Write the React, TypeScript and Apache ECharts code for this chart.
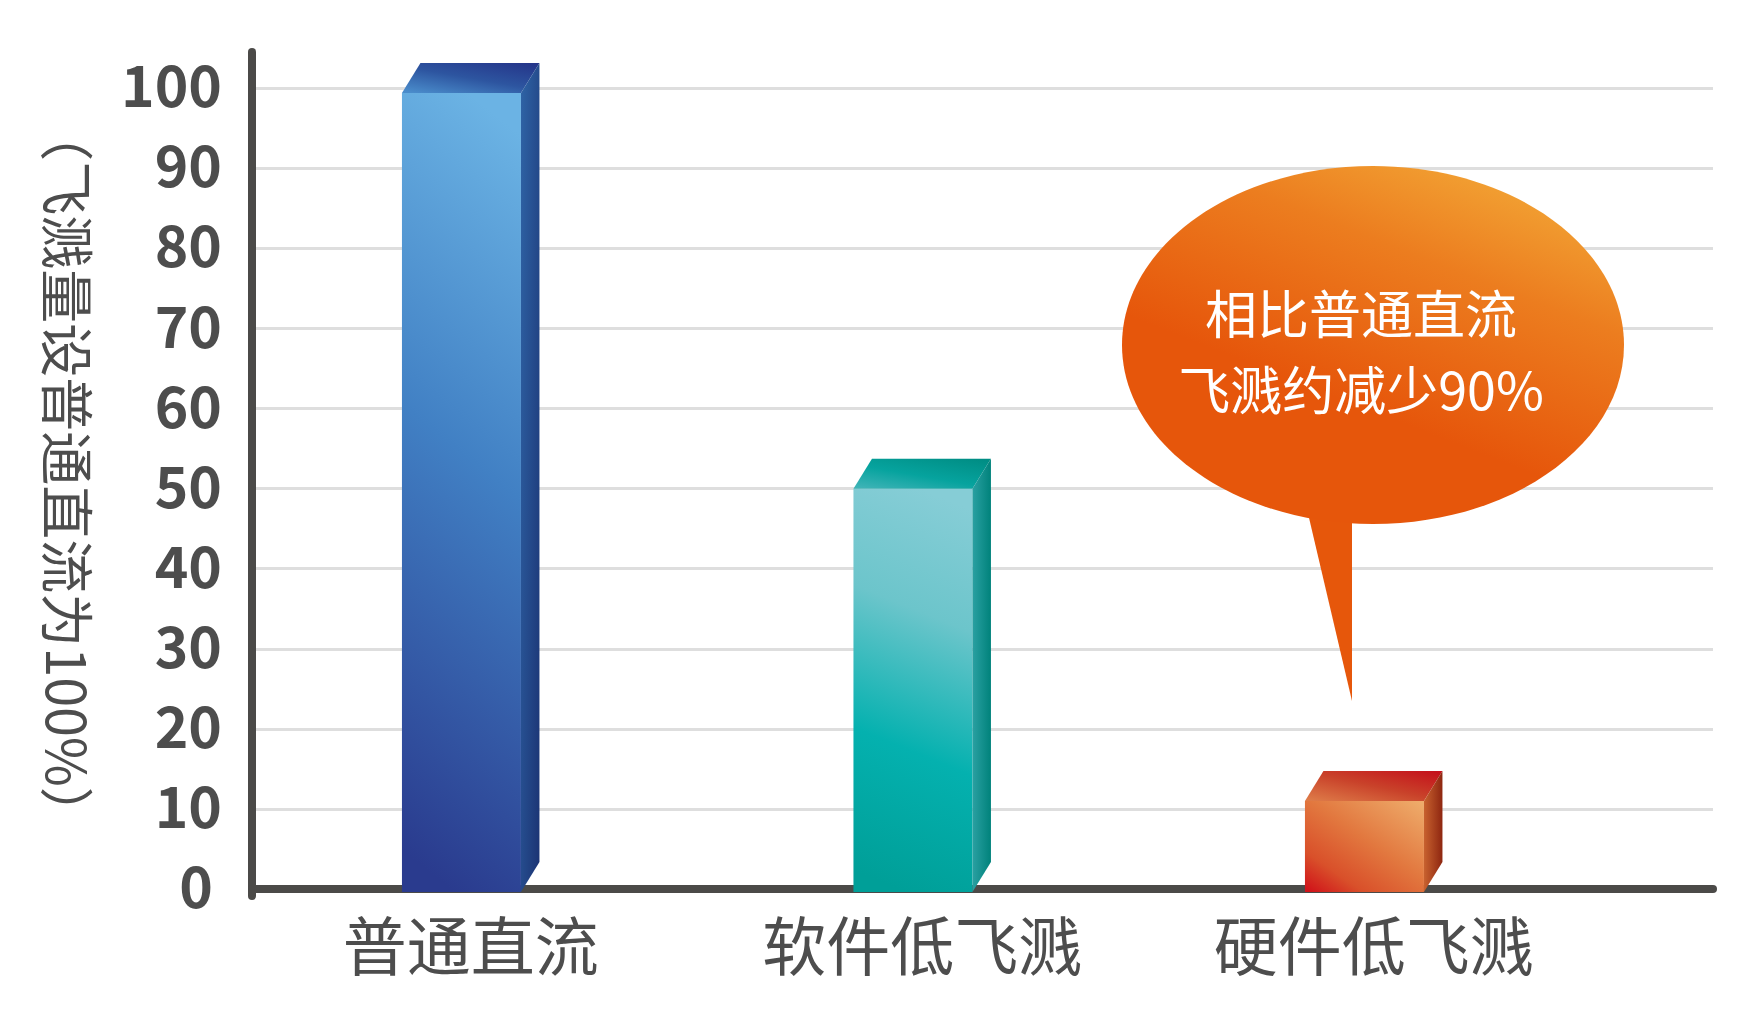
import React, { useEffect, useRef } from "react";
import * as echarts from "echarts";

const categories = ["普通直流", "软件低飞溅", "硬件低飞溅"];
const values = [99.4, 50, 11];
const yTicks = [0, 10, 20, 30, 40, 50, 60, 70, 80, 90, 100];
const yAxisName = "（飞溅量设普通直流为100%）";
const calloutLines = ["相比普通直流", "飞溅约减少90%"];

const FONT = '"Noto Sans CJK SC", "Noto Sans", sans-serif';
const AXIS_COLOR = "#4b4a48";
const TEXT_COLOR = "#4d4d4d";

const FRONT_W = 119;
const DX = 18.5;
const DY = 30;

const lin = (x: number, y: number, x2: number, y2: number, stops: [number, string][]) => ({
  type: "linear",
  x,
  y,
  x2,
  y2,
  colorStops: stops.map(([offset, color]) => ({ offset, color })),
  global: false,
});

const palettes = [
  {
    front: lin(0.56, 0, 0.44, 1, [
      [0, "#6bb3e4"],
      [0.45, "#4180c4"],
      [1, "#2a3b8e"],
    ]),
    top: lin(0.1, 1, 0.9, 0, [
      [0, "#4a8ccb"],
      [0.5, "#2d55a0"],
      [1, "#25368a"],
    ]),
    side: lin(0, 0, 1, 1, [
      [0, "#2f64a6"],
      [1, "#1b3373"],
    ]),
  },
  {
    front: lin(0.56, 0, 0.44, 1, [
      [0, "#86cdd6"],
      [0.3, "#6cc5cb"],
      [0.65, "#04b1af"],
      [1, "#009f98"],
    ]),
    top: lin(0.1, 1, 0.9, 0, [
      [0, "#3db3b6"],
      [0.45, "#06a39e"],
      [1, "#008d84"],
    ]),
    side: lin(0, 0, 1, 0, [
      [0, "#2aa0a2"],
      [1, "#00827b"],
    ]),
  },
  {
    front: lin(0.95, 0, 0.05, 1, [
      [0, "#eeab6a"],
      [0.45, "#e2783f"],
      [0.78, "#d9502a"],
      [1, "#d0141a"],
    ]),
    top: lin(0, 1, 1, 0, [
      [0, "#df7e4a"],
      [0.5, "#c9422a"],
      [1, "#c40e1a"],
    ]),
    side: lin(0, 0, 1, 0, [
      [0, "#c8622f"],
      [1, "#8e2610"],
    ]),
  },
];

export default function App() {
  const ref = useRef<HTMLDivElement>(null);

  useEffect(() => {
    document.body.style.margin = "0";
    if (!ref.current) return;
    const chart = echarts.init(ref.current, undefined, { renderer: "svg" });

    const xMin = -0.4844;
    const xMax = 2.7515;

    const calloutText = (text: string, y: number) => ({
      type: "text",
      z: 102,
      x: 1361,
      y,
      style: {
        text,
        fill: "#ffffff",
        fontFamily: FONT,
        fontSize: 52,
        align: "center",
        verticalAlign: "middle",
      },
    });

    const option: any = {
      animation: false,
      backgroundColor: "#ffffff",
      grid: [
        { left: 252, right: 42, top: 88.3, bottom: 134, containLabel: false },
        { left: 252, right: 42, top: 52, bottom: 127, containLabel: false },
      ],
      xAxis: [
        {
          type: "value",
          gridIndex: 0,
          min: xMin,
          max: xMax,
          offset: 3,
          axisLine: { show: true, lineStyle: { color: AXIS_COLOR, width: 8 } },
          axisTick: { show: false },
          splitLine: { show: false },
          axisLabel: {
            show: true,
            customValues: categories.map((_, i) => i),
            formatter: (v: number) => categories[Math.round(v)] ?? "",
            fontFamily: FONT,
            fontSize: 64,
            color: TEXT_COLOR,
            margin: 18,
          },
        },
        {
          type: "value",
          gridIndex: 1,
          min: 0,
          max: 1,
          show: false,
        },
      ],
      yAxis: [
        {
          type: "value",
          gridIndex: 0,
          min: 0,
          max: 100,
          interval: 10,
          axisLine: { show: false },
          axisTick: { show: false },
          splitLine: { show: true, lineStyle: { color: "#dedede", width: 3 } },
          axisLabel: {
            margin: 30,
            fontFamily: FONT,
            fontSize: 57,
            fontWeight: "bold",
            color: TEXT_COLOR,
            padding: [0, 0, 12, 0],
            formatter: (v: number) => (yTicks.includes(v) ? (v === 0 ? "{z|0}" : String(v)) : ""),
            rich: {
              z: {
                fontFamily: FONT,
                fontSize: 57,
                fontWeight: "bold",
                color: TEXT_COLOR,
                padding: [0, 9, 0, 0],
              },
            },
          },
        },
        {
          type: "value",
          gridIndex: 1,
          min: 0,
          max: 1,
          axisLine: { show: true, lineStyle: { color: AXIS_COLOR, width: 8 } },
          axisTick: { show: false },
          axisLabel: { show: false },
          splitLine: { show: false },
          name: yAxisName,
          nameLocation: "middle",
          nameRotate: -90,
          nameGap: 156,
          nameTextStyle: {
            fontFamily: FONT,
            fontSize: 54,
            color: TEXT_COLOR,
          },
        },
      ],
      series: [
        {
          type: "custom",
          xAxisIndex: 0,
          yAxisIndex: 0,
          encode: { x: 0, y: 1 },
          data: categories.map((_, i) => [i, values[i]]),
          renderItem: (params: any, api: any) => {
            const xi = api.value(0);
            const v = api.value(1);
            const top = api.coord([xi, v]);
            const base = api.coord([xi, 0]);
            const cx = top[0];
            const fl = cx - (FRONT_W + DX) / 2;
            const fr = fl + FRONT_W;
            const yT = top[1];
            const yB = base[1] + 3;
            const pal = palettes[params.dataIndex % palettes.length];
            return {
              type: "group",
              children: [
                {
                  type: "rect",
                  shape: { x: fl, y: yT, width: FRONT_W, height: yB - yT },
                  style: { fill: pal.front },
                },
                {
                  type: "polygon",
                  shape: {
                    points: [
                      [fl, yT],
                      [fl + DX, yT - DY],
                      [fr + DX, yT - DY],
                      [fr, yT],
                    ],
                  },
                  style: { fill: pal.top },
                },
                {
                  type: "polygon",
                  shape: {
                    points: [
                      [fr, yT],
                      [fr + DX, yT - DY],
                      [fr + DX, yB - DY],
                      [fr, yB],
                    ],
                  },
                  style: { fill: pal.side },
                },
              ],
            };
          },
        },
      ],
      graphic: [
        {
          type: "polygon",
          z: 100,
          shape: {
            points: [
              [1306, 505],
              [1352, 505],
              [1352, 701],
            ],
          },
          style: { fill: "#e6570b" },
        },
        {
          type: "ellipse",
          z: 101,
          shape: { cx: 1373, cy: 345, rx: 251, ry: 179 },
          style: {
            fill: lin(0.72, 0, 0.38, 0.62, [
              [0, "#f2a334"],
              [0.4, "#ec7d1f"],
              [1, "#e6560b"],
            ]),
          },
        },
        calloutText(calloutLines[0], 311),
        calloutText(calloutLines[1], 387),
      ],
    };

    chart.setOption(option);
    return () => chart.dispose();
  }, []);

  return <div ref={ref} style={{ width: 1755, height: 1023 }} />;
}
